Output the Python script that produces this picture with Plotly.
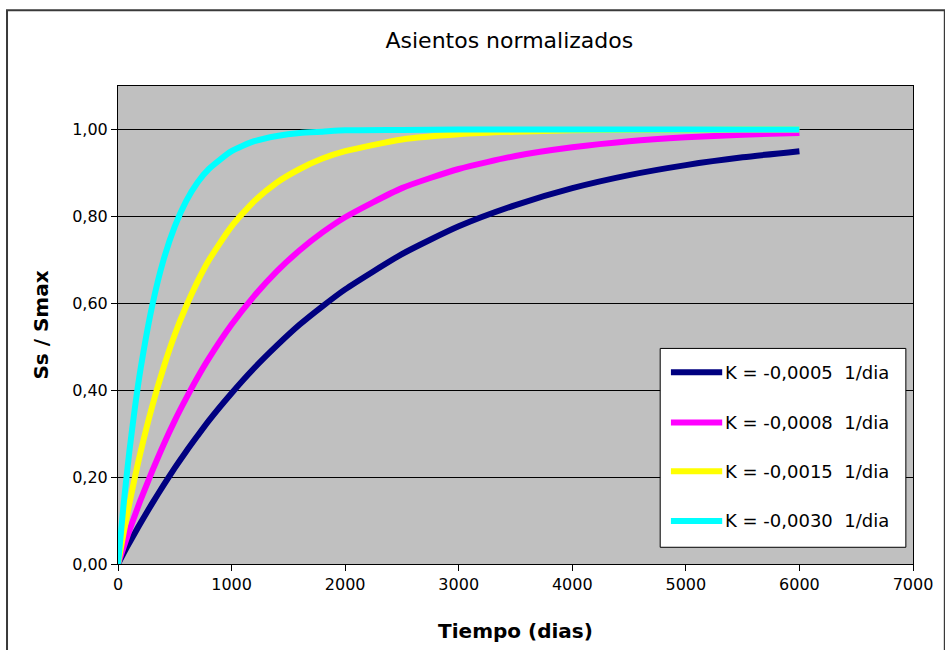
import plotly.graph_objects as go

# Time axis (days) and normalised settlement Ss/Smax for each consolidation rate K
tiempo = [0, 50, 100, 150, 200, 300, 400, 500, 600, 700, 800, 1000, 1200, 1400,
          1600, 1800, 2000, 2500, 3000, 3500, 4000, 4500, 5000, 5500, 6000]

k_0005 = [0.000, 0.025, 0.049, 0.072, 0.095, 0.139, 0.181, 0.221, 0.259, 0.295, 0.330, 0.393,
          0.451, 0.503, 0.551, 0.593, 0.632, 0.713, 0.777, 0.826, 0.865, 0.895, 0.918, 0.936, 0.950]
k_0008 = [0.000, 0.039, 0.077, 0.113, 0.148, 0.213, 0.274, 0.330, 0.381, 0.429, 0.473, 0.551,
          0.617, 0.674, 0.722, 0.763, 0.798, 0.865, 0.909, 0.939, 0.959, 0.973, 0.982, 0.988, 0.992]
k_0015 = [0.000, 0.072, 0.139, 0.201, 0.259, 0.362, 0.451, 0.528, 0.593, 0.650, 0.699, 0.777,
          0.835, 0.878, 0.909, 0.933, 0.950, 0.977, 0.989, 0.995, 0.998, 0.999, 0.999, 1.000, 1.000]
k_0030 = [0.000, 0.139, 0.259, 0.362, 0.451, 0.593, 0.699, 0.777, 0.835, 0.878, 0.909, 0.950,
          0.973, 0.985, 0.992, 0.995, 0.998, 0.999, 1.000, 1.000, 1.000, 1.000, 1.000, 1.000, 1.000]

series = [k_0005, k_0008, k_0015, k_0030]
nombres = ["K = -0,0005\u00a0\u00a01/dia", "K = -0,0008\u00a0\u00a01/dia",
           "K = -0,0015\u00a0\u00a01/dia", "K = -0,0030\u00a0\u00a01/dia"]
colores = ["#000080", "#FF00FF", "#FFFF00", "#00FFFF"]

y_ticks = [0.0, 0.2, 0.4, 0.6, 0.8, 1.0]
y_labels = ["0,00", "0,20", "0,40", "0,60", "0,80", "1,00"]
x_ticks = [0, 1000, 2000, 3000, 4000, 5000, 6000, 7000]

FONT = "DejaVu Sans"

fig = go.Figure()
for vals, name, col in zip(series, nombres, colores):
    fig.add_trace(go.Scatter(
        x=tiempo, y=vals, mode="lines", name=name,
        line=dict(color=col, width=6, shape="spline", smoothing=0.6),
        showlegend=False, hoverinfo="x+y"))

# outer chart frame
fig.add_shape(type="rect", xref="paper", yref="paper",
              x0=-0.1396, x1=1.04, y0=-0.25, y1=1.1587,
              line=dict(color="#3a3a3a", width=2), fillcolor="rgba(0,0,0,0)", layer="below")

# legend box drawn inside the plot area
lx0, lx1, ly0, ly1 = 0.682, 0.991, 0.035, 0.451
fig.add_shape(type="rect", xref="x domain", yref="y domain",
              x0=lx0, x1=lx1, y0=ly0, y1=ly1,
              line=dict(color="#000000", width=1), fillcolor="#FFFFFF")
entry_y = [0.401, 0.296, 0.194, 0.090]
for yy, name, col in zip(entry_y, nombres, colores):
    fig.add_shape(type="line", xref="x domain", yref="y domain",
                  x0=0.6955, x1=0.7600, y0=yy, y1=yy,
                  line=dict(color=col, width=6))
    fig.add_annotation(xref="x domain", yref="y domain", x=0.7615, y=yy,
                       text=name, showarrow=False, xanchor="left", yanchor="middle",
                       font=dict(family=FONT, size=18, color="#000000"))

fig.update_layout(
    width=945, height=650,
    margin=dict(l=118, r=25, t=86, b=85),
    paper_bgcolor="#FFFFFF", plot_bgcolor="#C0C0C0",
    title=dict(text="Asientos normalizados", x=0.539, xanchor="center", y=0.938, yanchor="middle",
               font=dict(family=FONT, size=22, color="#000000")),
    font=dict(family=FONT, color="#000000"),
)
fig.update_xaxes(
    range=[0, 7000], tickvals=x_ticks, ticks="outside", ticklen=6, tickcolor="#000",
    showgrid=False, zeroline=False, showline=True, linecolor="#000", linewidth=1, mirror=True,
    tickfont=dict(family=FONT, size=16),
    title=dict(text="<b>Tiempo (dias)</b>", font=dict(family=FONT, size=20), standoff=30),
)
fig.update_yaxes(
    range=[0, 1.1], tickvals=y_ticks, ticktext=y_labels, ticks="outside", ticklen=6, tickcolor="#000",
    showgrid=True, gridcolor="#000", gridwidth=1, zeroline=False,
    showline=True, linecolor="#000", linewidth=1, mirror=True,
    tickfont=dict(family=FONT, size=16),
    title=dict(text="<b>Ss / Smax</b>", font=dict(family=FONT, size=20), standoff=18),
)

fig.write_html("out.html")
